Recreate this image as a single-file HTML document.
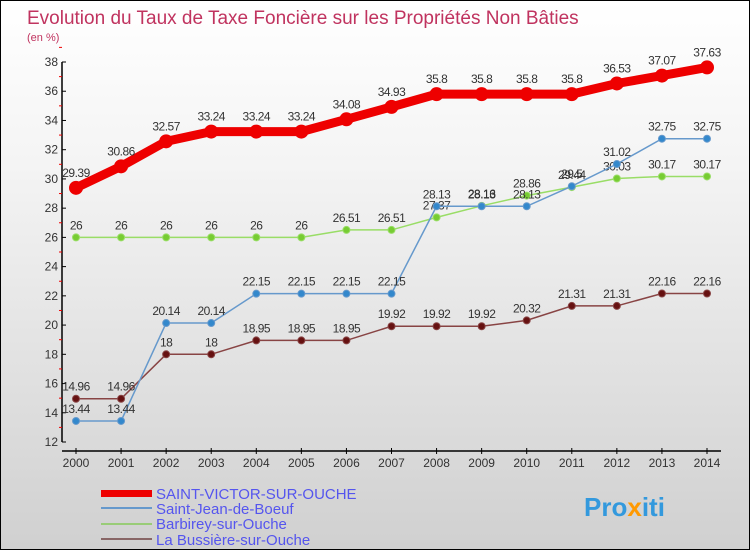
<!DOCTYPE html>
<html><head><meta charset="utf-8"><style>
body{margin:0}
#c{width:748px;height:548px;border:1px solid #000;background:linear-gradient(#ffffff,#f4f4f4 30%,#d0d0d0);position:relative;font-family:"Liberation Sans",sans-serif;overflow:hidden}
</style></head><body>
<div id="c">
<svg id="s" width="748" height="548" xmlns="http://www.w3.org/2000/svg">
<text x="26" y="23" font-size="19" fill="#c0335f">Evolution du Taux de Taxe Foncière sur les Propriétés Non Bâties</text>
<text x="26" y="40" font-size="11" fill="#c0335f">(en %)</text>
<g id="g"></g>
<g>
<rect x="100" y="489" width="51" height="7" fill="#ee0000"/>
<text x="155" y="498" font-size="15" fill="#5555ee">SAINT-VICTOR-SUR-OUCHE</text>
<rect x="100" y="506" width="51" height="2" fill="#6699cc"/>
<text x="155" y="513" font-size="15" fill="#5555ee">Saint-Jean-de-Boeuf</text>
<rect x="100" y="522" width="51" height="2" fill="#99cc77"/>
<text x="155" y="528" font-size="15" fill="#5555ee">Barbirey-sur-Ouche</text>
<rect x="100" y="537" width="51" height="2" fill="#886666"/>
<text x="155" y="544" font-size="15" fill="#5555ee">La Bussière-sur-Ouche</text>
</g>
<text x="583" y="515" font-size="26" font-weight="bold" fill="#3399dd">Pro<tspan fill="#ff9900">x</tspan>iti</text>
</svg>
</div>
<script>
const years=[2000,2001,2002,2003,2004,2005,2006,2007,2008,2009,2010,2011,2012,2013,2014];
const yTicks=[12,14,16,18,20,22,24,26,28,30,32,34,36,38];
const saintVictor=[29.39,30.86,32.57,33.24,33.24,33.24,34.08,34.93,35.8,35.8,35.8,35.8,36.53,37.07,37.63];
const saintJean=[13.44,13.44,20.14,20.14,22.15,22.15,22.15,22.15,28.13,28.13,28.13,29.5,31.02,32.75,32.75];
const barbirey=[26,26,26,26,26,26,26.51,26.51,27.37,28.16,28.86,29.44,30.03,30.17,30.17];
const bussiere=[14.96,14.96,18,18,18.95,18.95,18.95,19.92,19.92,19.92,20.32,21.31,21.31,22.16,22.16];
const NS="http://www.w3.org/2000/svg",g=document.getElementById('g');
const X=i=>75+i*(706-75)/(years.length-1);
const Y=v=>441-(v-12)*(441-61)/26;
function el(t,a){const e=document.createElementNS(NS,t);for(const k in a)e.setAttribute(k,a[k]);g.appendChild(e);return e;}
let ax=el('line',{x1:61,y1:61,x2:61,y2:441,stroke:'#000','stroke-width':1.5});


let bx=el('line',{x1:61,y1:450,x2:720,y2:450,stroke:'#000','stroke-width':1.5});


yTicks.forEach(v=>{
 el('line',{x1:61,y1:Y(v),x2:65,y2:Y(v),stroke:'#000'});
 el('line',{x1:58,y1:Y(v+1),x2:61,y2:Y(v+1),stroke:'#e00'});
 let t=el('text',{x:57,y:Y(v)+4,'font-size':12,'text-anchor':'end',fill:'#333'});t.textContent=v;
 
 
});
years.forEach((y,i)=>{
 el('line',{x1:X(i),y1:447,x2:X(i),y2:453,stroke:'#000'});
 let t=el('text',{x:X(i),y:466,'font-size':12,'text-anchor':'middle',fill:'#333'});t.textContent=y;
 
 
});
function series(arr,color,w,r,name,dot){
 let p=el('polyline',{points:arr.map((v,i)=>X(i)+','+Y(v)).join(' '),fill:'none',stroke:color,'stroke-width':w});
 
 
 arr.forEach((v,i)=>{
  let c=el('circle',{cx:X(i),cy:Y(v),r:r,fill:dot,stroke:color,'stroke-width':1});
  
  
  let t=el('text',{x:X(i),y:Y(v)-8-(w>3?3:0),'font-size':12,'text-anchor':'middle',fill:'#333','letter-spacing':'-0.5'});t.textContent=v;
  
  
 });
}
series(bussiere,'#884444',1.5,3.5,'la-bussiere','#661111');
series(barbirey,'#99dd66',1.5,3.5,'barbirey','#77cc33');
series(saintJean,'#6699cc',1.5,3.5,'saint-jean','#3388cc');
series(saintVictor,'#ee0000',9,6.5,'saint-victor','#ee0000');
</script>
</body></html>
